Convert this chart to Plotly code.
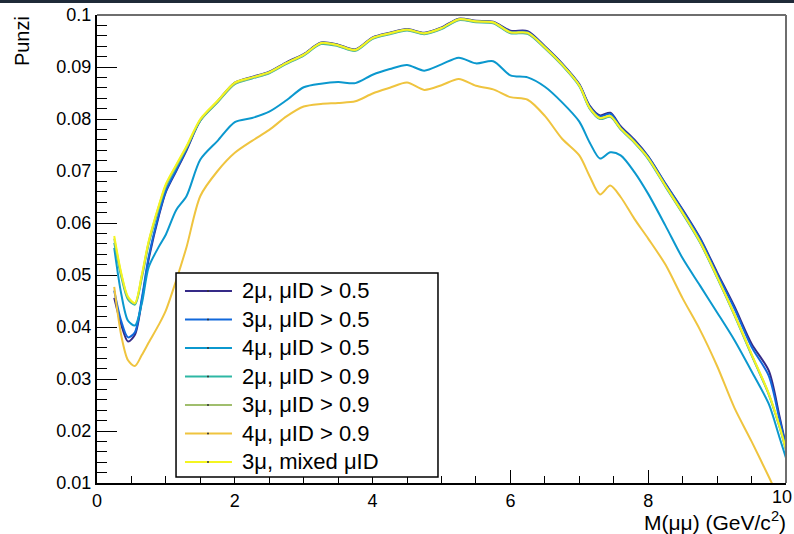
import plotly.graph_objects as go

# Dimuon invariant mass grid (GeV/c^2)
mass = [0.25, 0.35, 0.45, 0.55, 0.65, 0.75, 0.9, 1.0, 1.15, 1.3, 1.5, 1.75,
        2.0, 2.25, 2.5, 2.75, 3.0, 3.25, 3.5, 3.75, 4.0, 4.25, 4.5, 4.75,
        5.0, 5.25, 5.5, 5.75, 6.0, 6.25, 6.5, 6.75,
        7.0, 7.15, 7.3, 7.45, 7.6, 7.8, 8.0,
        8.25, 8.5, 8.75, 9.0, 9.25, 9.5, 9.75, 9.9, 10.0]

# Punzi figure of merit for each selection
punzi_2mu_05 = [0.0456, 0.0405, 0.0372, 0.0385, 0.0450, 0.0530, 0.0615, 0.0660, 0.0700, 0.0740, 0.0797, 0.0834,
                0.0870, 0.0881, 0.0891, 0.0909, 0.0925, 0.0947, 0.0943, 0.0934, 0.0957, 0.0966, 0.0973, 0.0966,
                0.0976, 0.0993, 0.0989, 0.0987, 0.0970, 0.0969, 0.0940, 0.0907,
                0.0867, 0.0826, 0.0807, 0.0812, 0.0786, 0.0760, 0.0728,
                0.0676, 0.0626, 0.0572, 0.0505, 0.0440, 0.0368, 0.0316, 0.0232, 0.0172]
punzi_3mu_05 = [0.0470, 0.0412, 0.0380, 0.0390, 0.0455, 0.0535, 0.0618, 0.0662, 0.0702, 0.0742, 0.0798, 0.0834,
                0.0869, 0.0880, 0.0890, 0.0908, 0.0924, 0.0946, 0.0942, 0.0933, 0.0956, 0.0965, 0.0972, 0.0965,
                0.0975, 0.0992, 0.0988, 0.0986, 0.0968, 0.0967, 0.0939, 0.0906,
                0.0866, 0.0824, 0.0805, 0.0810, 0.0784, 0.0758, 0.0727,
                0.0675, 0.0624, 0.0570, 0.0502, 0.0436, 0.0362, 0.0306, 0.0226, 0.0170]
punzi_4mu_05 = [0.0552, 0.0465, 0.0412, 0.0403, 0.0445, 0.0515, 0.0555, 0.0578, 0.0625, 0.0652, 0.0722, 0.0758,
                0.0794, 0.0802, 0.0814, 0.0836, 0.0861, 0.0868, 0.0871, 0.0869, 0.0885, 0.0896, 0.0904, 0.0893,
                0.0905, 0.0918, 0.0907, 0.0911, 0.0884, 0.0880, 0.0862, 0.0832,
                0.0795, 0.0755, 0.0724, 0.0736, 0.0730, 0.0698, 0.0656,
                0.0595, 0.0532, 0.0480, 0.0428, 0.0375, 0.0315, 0.0252, 0.0190, 0.0148]
punzi_2mu_09 = [0.0562, 0.0498, 0.0453, 0.0443, 0.0494, 0.0560, 0.0630, 0.0671, 0.0708, 0.0745, 0.0797, 0.0832,
                0.0867, 0.0878, 0.0888, 0.0906, 0.0922, 0.0944, 0.0940, 0.0931, 0.0954, 0.0963, 0.0970, 0.0963,
                0.0973, 0.0990, 0.0986, 0.0984, 0.0965, 0.0964, 0.0936, 0.0903,
                0.0863, 0.0820, 0.0800, 0.0804, 0.0780, 0.0754, 0.0723,
                0.0670, 0.0618, 0.0563, 0.0495, 0.0423, 0.0346, 0.0270, 0.0210, 0.0163]
punzi_3mu_09 = [0.0570, 0.0502, 0.0456, 0.0445, 0.0498, 0.0563, 0.0633, 0.0673, 0.0710, 0.0746, 0.0798, 0.0833,
                0.0868, 0.0879, 0.0889, 0.0907, 0.0923, 0.0945, 0.0941, 0.0932, 0.0955, 0.0964, 0.0971, 0.0964,
                0.0974, 0.0991, 0.0987, 0.0985, 0.0966, 0.0965, 0.0937, 0.0904,
                0.0864, 0.0821, 0.0801, 0.0805, 0.0781, 0.0755, 0.0724,
                0.0671, 0.0619, 0.0564, 0.0496, 0.0424, 0.0347, 0.0271, 0.0211, 0.0164]
punzi_4mu_09 = [0.0477, 0.0385, 0.0336, 0.0325, 0.0346, 0.0370, 0.0405, 0.0432, 0.0490, 0.0554, 0.0652, 0.0700,
                0.0735, 0.0758, 0.0779, 0.0805, 0.0824, 0.0829, 0.0831, 0.0834, 0.0849, 0.0860, 0.0870, 0.0856,
                0.0865, 0.0877, 0.0864, 0.0857, 0.0842, 0.0837, 0.0806, 0.0762,
                0.0730, 0.0690, 0.0655, 0.0672, 0.0650, 0.0608, 0.0570,
                0.0520, 0.0455, 0.0395, 0.0325, 0.0245, 0.0180, 0.0112, 0.0070, 0.0045]
punzi_3mu_mixed = [0.0575, 0.0505, 0.0458, 0.0446, 0.0500, 0.0565, 0.0635, 0.0675, 0.0712, 0.0748, 0.0800, 0.0835,
                   0.0870, 0.0880, 0.0890, 0.0908, 0.0924, 0.0946, 0.0942, 0.0933, 0.0956, 0.0965, 0.0972, 0.0965,
                   0.0975, 0.0992, 0.0988, 0.0986, 0.0967, 0.0966, 0.0938, 0.0905,
                   0.0865, 0.0822, 0.0802, 0.0806, 0.0782, 0.0756, 0.0725,
                   0.0672, 0.0620, 0.0565, 0.0497, 0.0425, 0.0348, 0.0272, 0.0212, 0.0165]

series_names = ["2\u03bc, \u03bcID > 0.5", "3\u03bc, \u03bcID > 0.5", "4\u03bc, \u03bcID > 0.5",
                "2\u03bc, \u03bcID > 0.9", "3\u03bc, \u03bcID > 0.9", "4\u03bc, \u03bcID > 0.9",
                "3\u03bc, mixed \u03bcID"]
series_values = [punzi_2mu_05, punzi_3mu_05, punzi_4mu_05, punzi_2mu_09,
                 punzi_3mu_09, punzi_4mu_09, punzi_3mu_mixed]
# colours sampled along the kBird palette
series_colors = ["#352a87", "#1168db", "#0b98ce", "#2eb7a4", "#a0be6d", "#efc43f", "#f4f520"]

x_ticks = [0, 2, 4, 6, 8, 10]
x_ticktext = ["0", "2", "4", "6", "8", ""]   # last label is drawn separately, nudged inside the page
last_x_label = "10"
y_ticks = [0.01, 0.02, 0.03, 0.04, 0.05, 0.06, 0.07, 0.08, 0.09, 0.1]
y_ticktext = ["0.01", "0.02", "0.03", "0.04", "0.05", "0.06", "0.07", "0.08", "0.09", "0.1"]

FONT = "Liberation Sans, Arial, Helvetica, sans-serif"

fig = go.Figure()
for name, vals, col in zip(series_names, series_values, series_colors):
    fig.add_trace(go.Scatter(x=mass, y=vals, name=name, mode="lines",
                             line=dict(color=col, width=2, shape="spline", smoothing=0.8)))

fig.update_layout(
    width=794, height=534,
    margin=dict(l=97, r=8, t=15, b=51, autoexpand=False),
    paper_bgcolor="white", plot_bgcolor="white",
    showlegend=False,
    font=dict(family=FONT, color="black"),
    xaxis=dict(range=[0, 10], tickvals=x_ticks, ticktext=x_ticktext, ticks="inside", ticklen=13,
               tickwidth=1, tickcolor="black", automargin=False,
               minor=dict(dtick=0.5, ticks="inside", ticklen=7, tickcolor="black", tickwidth=1),
               showline=True, linecolor="black", linewidth=2,
               showgrid=False, zeroline=False, tickfont=dict(size=18)),
    yaxis=dict(range=[0.01, 0.1], tickvals=y_ticks, ticktext=y_ticktext, automargin=False,
               ticks="inside", ticklen=20, tickwidth=1, tickcolor="black",
               minor=dict(dtick=0.002, ticks="inside", ticklen=10, tickcolor="black", tickwidth=1),
               showline=True, linecolor="black", linewidth=2,
               showgrid=False, zeroline=False, tickfont=dict(size=18)),
)

shapes = []
# dark strip along the top of the page
shapes.append(dict(type="rect", xref="paper", yref="paper", x0=-0.16, x1=1.03,
                   y0=1.0256, y1=1.06, fillcolor="#1f2a38", line=dict(width=0)))
# grey top and right frame edges
shapes.append(dict(type="line", xref="paper", yref="paper", x0=0, x1=1.0, y0=1, y1=1,
                   line=dict(color="#6e6e6e", width=2)))
shapes.append(dict(type="line", xref="paper", yref="paper", x0=1.0, x1=1.0, y0=0, y1=1,
                   line=dict(color="#6e6e6e", width=2)))

# legend box
lx0, lx1, ly0, ly1 = 0.1147, 0.4949, 0.0128, 0.4487
shapes.append(dict(type="rect", xref="paper", yref="paper", x0=lx0, x1=lx1, y0=ly0, y1=ly1,
                   fillcolor="white", line=dict(color="black", width=1.5), layer="above"))
annotations = []
row_top, row_step = 0.4105, 0.0609
for i, (name, col) in enumerate(zip(series_names, series_colors)):
    yy = row_top - i * row_step
    shapes.append(dict(type="line", xref="paper", yref="paper", x0=0.1277, x1=0.1959,
                       y0=yy, y1=yy, line=dict(color=col, width=2), layer="above"))
    shapes.append(dict(type="circle", xref="paper", yref="paper", xsizemode="pixel",
                       ysizemode="pixel", xanchor=0.1611, yanchor=yy, x0=-1, x1=1, y0=-1, y1=1,
                       fillcolor="#333333", line=dict(width=0), layer="above"))
    annotations.append(dict(xref="paper", yref="paper", x=0.2075, y=yy, text=name,
                            showarrow=False, xanchor="left", yanchor="middle",
                            font=dict(size=22, family=FONT, color="black")))

# right-most x tick label, kept inside the page edge
annotations.append(dict(xref="paper", yref="paper", x=0.9942, y=-0.0299, text=last_x_label,
                        showarrow=False, xanchor="center", yanchor="middle",
                        font=dict(size=18, family=FONT, color="black")))

# axis titles
annotations.append(dict(xref="paper", yref="paper", x=-0.109, y=0.944, text="Punzi",
                        textangle=-90, showarrow=False, xanchor="center", yanchor="middle",
                        font=dict(size=20, family=FONT, color="black")))
annotations.append(dict(xref="paper", yref="paper", x=1.003, y=-0.081,
                        text="M(\u03bc\u03bc) (GeV/c<sup>2</sup>)",
                        showarrow=False, xanchor="right", yanchor="middle",
                        font=dict(size=21, family=FONT, color="black")))

fig.update_layout(shapes=shapes, annotations=annotations)
fig.write_html("out.html")
